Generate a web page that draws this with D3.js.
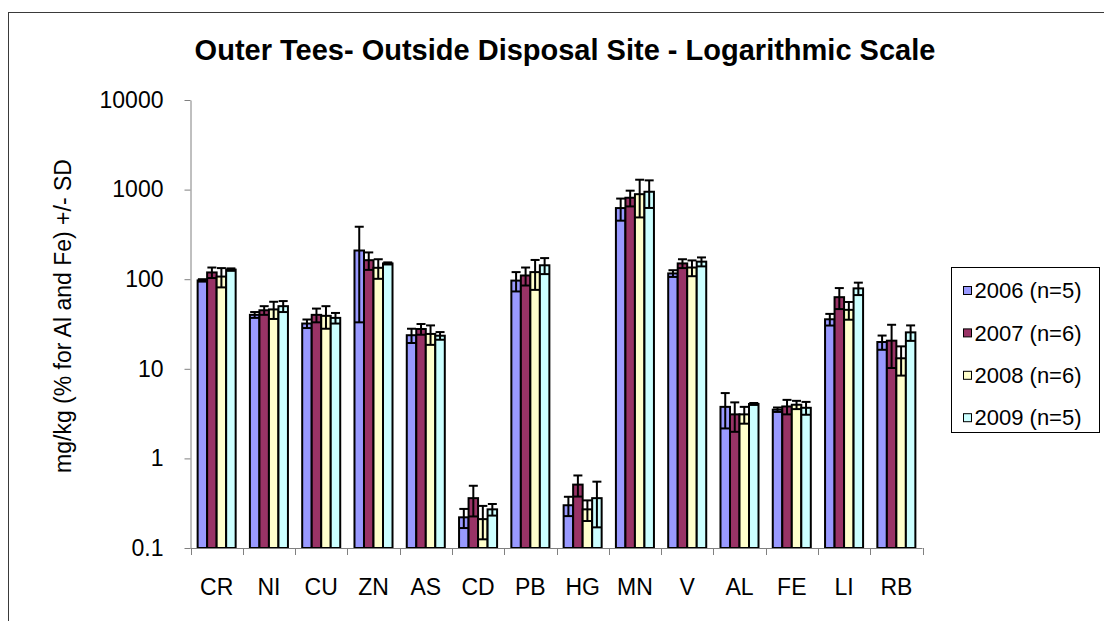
<!DOCTYPE html>
<html>
<head>
<meta charset="utf-8">
<script src="https://cdn.jsdelivr.net/npm/d3@7"></script>
<style>
  html, body { margin: 0; padding: 0; background: #fff; }
  svg { display: block; font-family: "Liberation Sans", Arial, sans-serif; }
</style>
</head>
<body>
<svg id="chart" width="1104" height="621"></svg>
<script>
// Element categories along the x axis
const categories = ["CR", "NI", "CU", "ZN", "AS", "CD", "PB", "HG", "MN", "V", "AL", "FE", "LI", "RB"];

// Survey years shown in the legend
const seriesNames = ["2006 (n=5)", "2007 (n=6)", "2008 (n=6)", "2009 (n=5)"];

// Mean concentrations (mg/kg; % for Al and Fe)
const mean2006 = [97, 40, 32, 209, 23.7, 0.22, 96.5, 0.30, 622, 116, 3.76, 3.5, 35.7, 19.9];
const mean2007 = [119, 45, 40, 163, 27.8, 0.36, 110, 0.51, 811, 150, 3.1, 3.8, 63, 20.6];
const mean2008 = [107, 46, 39, 134, 24.5, 0.21, 120, 0.27, 889, 135, 3.1, 3.97, 45.5, 13.1];
const mean2009 = [128, 50, 37, 150, 23.4, 0.27, 143, 0.36, 946, 157, 4.05, 3.67, 79, 25.5];

// Standard deviations
const sd2006 = [3, 3, 3.5, 176, 4.3, 0.053, 23.5, 0.073, 172, 10, 1.6, 0.2, 5.3, 3.6];
const sd2007 = [16, 5, 7, 36, 3.8, 0.135, 25, 0.135, 162, 17, 1.12, 0.7, 16.6, 10.4];
const sd2008 = [26, 10, 11, 33, 6, 0.085, 44, 0.07, 400, 27, 0.66, 0.42, 10.2, 4.7];
const sd2009 = [4, 7, 5, 4, 2.3, 0.04, 29, 0.19, 322, 18, 0.1, 0.6, 12.5, 5];

// Log axis ticks
const tickValues = [0.1, 1, 10, 100, 1000, 10000];
const tickLabels = ["0.1", "1", "10", "100", "1000", "10000"];

const seriesColors = ["#9999FF", "#993366", "#FFFFCC", "#CCFFFF"];

const means = [mean2006, mean2007, mean2008, mean2009];
const sds = [sd2006, sd2007, sd2008, sd2009];

const svg = d3.select("#chart");

// Chart frame
svg.append("rect")
  .attr("x", 8.5).attr("y", 12.5)
  .attr("width", 1200).attr("height", 800)
  .attr("fill", "none").attr("stroke", "#3a3a3a").attr("stroke-width", 1);

// Title
svg.append("text")
  .attr("x", 565).attr("y", 60)
  .attr("text-anchor", "middle")
  .attr("font-size", 29).attr("font-weight", "bold")
  .text("Outer Tees- Outside Disposal Site - Logarithmic Scale");

const plotLeft = 190.5, plotRight = 922.5, plotTop = 100, plotBottom = 548;

const y = d3.scaleLog().domain([0.1, 10000]).range([plotBottom, plotTop]);

const xCat = d3.scaleBand().domain(categories).range([plotLeft, plotRight]).padding(0);
const xGroup = d3.scaleBand().domain(categories).range([plotLeft, plotRight])
  .paddingInner(1.5 / 5.5).paddingOuter(0.75 / 5.5);
const xSeries = d3.scaleBand().domain(d3.range(seriesNames.length)).range([0, xGroup.bandwidth()]);

// Y axis
const yAxis = d3.axisLeft(y)
  .tickValues(tickValues)
  .tickFormat((d, i) => tickLabels[i])
  .tickSize(6).tickSizeOuter(0).tickPadding(21);

const gy = svg.append("g")
  .attr("transform", `translate(${plotLeft},0)`)
  .call(yAxis);
gy.select(".domain").attr("stroke", "#808080");
gy.selectAll(".tick line").attr("stroke", "#808080");
gy.selectAll(".tick text")
  .attr("font-size", 23).attr("fill", "#000")
  .attr("font-family", "'Liberation Sans', Arial, sans-serif");

// Y axis title
svg.append("text")
  .attr("transform", "translate(63,316) rotate(-90)")
  .attr("text-anchor", "middle").attr("dy", "0.35em")
  .attr("font-size", 23)
  .text("mg/kg (% for Al and Fe) +/- SD");

// Bars
const groups = svg.append("g").selectAll("g")
  .data(categories)
  .join("g")
  .attr("transform", c => `translate(${xGroup(c)},0)`);

groups.each(function (c, ci) {
  const g = d3.select(this);
  seriesNames.forEach((s, si) => {
    const v = means[si][ci];
    g.append("rect")
      .attr("x", xSeries(si))
      .attr("y", y(v))
      .attr("width", xSeries.bandwidth())
      .attr("height", y(0.1) - y(v))
      .attr("fill", seriesColors[si])
      .attr("stroke", "#000").attr("stroke-width", 2);
  });
});

// Error bars (mean +/- SD)
groups.each(function (c, ci) {
  const g = d3.select(this);
  seriesNames.forEach((s, si) => {
    const v = means[si][ci], sd = sds[si][ci];
    const cx = xSeries(si) + xSeries.bandwidth() / 2;
    const hi = y(v + sd), lo = y(v - sd);
    const cap = 4.5;
    const eb = g.append("g").attr("stroke", "#000").attr("stroke-width", 2);
    eb.append("line").attr("x1", cx).attr("x2", cx).attr("y1", hi).attr("y2", lo);
    eb.append("line").attr("x1", cx - cap).attr("x2", cx + cap).attr("y1", hi).attr("y2", hi);
    eb.append("line").attr("x1", cx - cap).attr("x2", cx + cap).attr("y1", lo).attr("y2", lo);
  });
});

// X axis line, boundary ticks and category labels
const gx = svg.append("g");
gx.append("line")
  .attr("x1", plotLeft).attr("x2", plotRight)
  .attr("y1", plotBottom + 0.5).attr("y2", plotBottom + 0.5)
  .attr("stroke", "#808080");
const boundaries = categories.map(c => xCat(c)).concat([xCat.range()[1]]);
gx.selectAll("line.tick")
  .data(boundaries)
  .join("line")
  .attr("class", "tick")
  .attr("x1", d => Math.round(d) + 0.5).attr("x2", d => Math.round(d) + 0.5)
  .attr("y1", plotBottom).attr("y2", plotBottom + 7)
  .attr("stroke", "#808080");
gx.selectAll("text")
  .data(categories)
  .join("text")
  .attr("x", c => xCat(c) + xCat.bandwidth() / 2)
  .attr("y", 595)
  .attr("text-anchor", "middle")
  .attr("font-size", 23)
  .text(c => c);

// Legend
const legend = svg.append("g");
legend.append("rect")
  .attr("x", 951.5).attr("y", 267.5)
  .attr("width", 148).attr("height", 165)
  .attr("fill", "#fff").attr("stroke", "#000").attr("stroke-width", 1);
const items = legend.selectAll("g.item")
  .data(seriesNames)
  .join("g")
  .attr("class", "item")
  .attr("transform", (d, i) => `translate(963.5,${286.5 + i * 42.4})`);
items.append("rect")
  .attr("width", 8).attr("height", 8)
  .attr("fill", (d, i) => seriesColors[i])
  .attr("stroke", "#000").attr("stroke-width", 1);
items.append("text")
  .attr("x", 11).attr("y", 4).attr("dy", "0.35em")
  .attr("font-size", 22)
  .text(d => d);
</script>
</body>
</html>
